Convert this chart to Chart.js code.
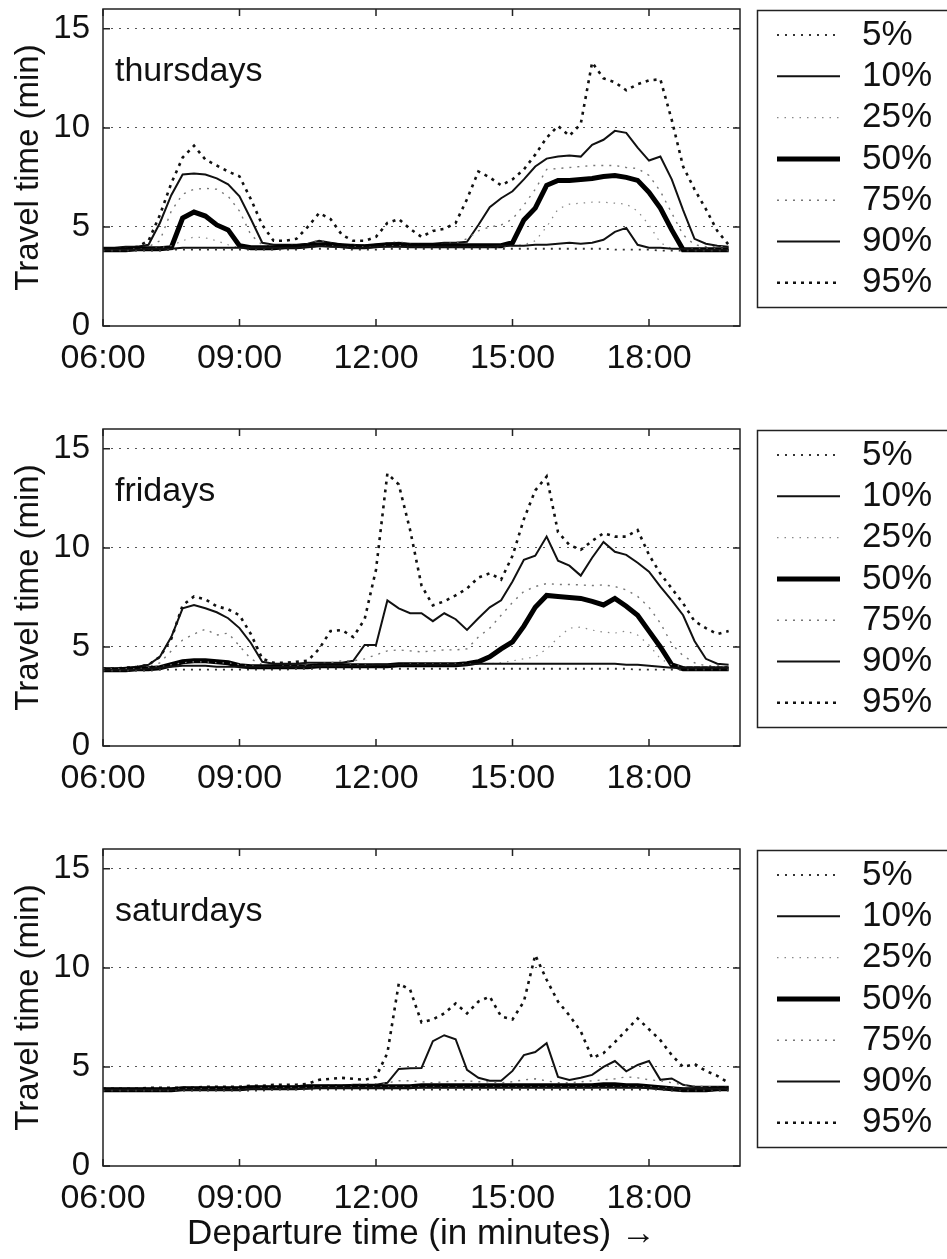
<!DOCTYPE html>
<html>
<head>
<meta charset="utf-8">
<script src="https://cdn.jsdelivr.net/npm/chart.js@4.4.1/dist/chart.umd.min.js"></script>
<style>
  html, body { margin: 0; padding: 0; background: #fff; }
  #wrap { position: relative; width: 947px; height: 1259px; overflow: hidden; }
  canvas { position: absolute; left: 0; }
</style>
</head>
<body>
<div id="wrap">
  <canvas id="thu" width="947" height="420" style="top:0;width:947px;height:420px"></canvas>
  <canvas id="fri" width="947" height="420" style="top:420px;width:947px;height:420px"></canvas>
  <canvas id="sat" width="947" height="419" style="top:840px;width:947px;height:419px"></canvas>
</div>
<script>
// departure times, minutes after midnight (06:00 .. 19:45, every 15 min)
const minutes = [360,375,390,405,420,435,450,465, 480,495,510,525,540,555,570,585,
  600,615,630,645,660,675,690,705, 720,735,750,765,780,795,810,825,
  840,855,870,885,900,915,930,945, 960,975,990,1005,1020,1035,1050,1065,
  1080,1095,1110,1125,1140,1155,1170,1185];

const levels = ['5%', '10%', '25%', '50%', '75%', '90%', '95%'];
const xTicks = [360, 540, 720, 900, 1080];
const yTicks = [0, 5, 10, 15];

// thursdays (travel time in minutes per percentile)
const thuP5  = [3.8,3.8,3.8,3.8,3.8,3.8,3.85,3.85, 3.85,3.85,3.85,3.85,3.85,3.85,3.85,3.85, 3.85,3.85,3.9,3.9,3.9,3.9,3.85,3.85, 3.85,3.9,3.9,3.9,3.9,3.9,3.9,3.9, 3.9,3.9,3.9,3.9,3.9,3.9,3.9,3.9, 3.9,3.9,3.9,3.9,3.9,3.85,3.85,3.85, 3.85,3.8,3.8,3.8,3.8,3.8,3.8,3.8];
const thuP10 = [3.85,3.85,3.85,3.85,3.9,3.9,3.9,3.95, 3.95,3.95,3.95,3.95,3.95,3.95,3.95,3.95, 3.95,3.95,4.0,4.05,4.0,4.0,3.95,3.95, 4.0,4.0,4.0,4.0,4.0,4.0,4.0,4.0, 4.0,4.0,4.0,4.05,4.05,4.05,4.1,4.1, 4.15,4.2,4.15,4.2,4.35,4.75,4.95,4.1, 3.95,3.95,3.9,3.9,3.85,3.85,3.85,3.85];
const thuP25 = [3.85,3.85,3.85,3.9,3.9,3.95,4.05,4.3, 4.5,4.45,4.3,4.1,3.95,3.95,3.95,3.95, 3.95,3.95,4.0,4.05,4.05,4.0,4.0,4.0, 4.0,4.05,4.05,4.0,4.0,4.0,4.0,4.0, 4.0,4.0,4.0,4.0,4.05,4.1,4.3,5.0, 5.9,6.15,6.2,6.25,6.25,6.2,6.15,5.8, 5.1,4.2,3.9,3.9,3.9,3.9,3.9,3.9];
const thuP50 = [3.85,3.85,3.85,3.9,3.9,3.9,3.95,5.45, 5.75,5.55,5.1,4.85,4.05,3.95,3.95,3.95, 4.0,4.0,4.05,4.1,4.1,4.05,4.0,4.0, 4.05,4.1,4.1,4.05,4.05,4.05,4.05,4.05, 4.05,4.05,4.05,4.05,4.2,5.35,5.95,7.1, 7.35,7.35,7.4,7.45,7.55,7.6,7.5,7.35, 6.75,5.95,4.85,3.85,3.85,3.85,3.85,3.85];
const thuP75 = [3.9,3.9,3.95,3.95,4.0,4.3,5.8,6.65, 6.9,6.95,6.9,6.55,5.8,4.6,4.1,4.05, 4.05,4.1,4.15,4.35,4.2,4.1,4.1,4.1, 4.1,4.2,4.25,4.15,4.1,4.1,4.15,4.2, 4.4,4.8,5.0,5.1,5.4,6.1,6.9,7.9, 7.95,8.0,8.05,8.1,8.1,8.1,8.0,7.95, 7.6,6.8,5.7,4.6,4.1,4.0,4.0,4.0];
const thuP90 = [3.95,3.95,4.0,4.0,4.1,5.2,6.6,7.65, 7.7,7.65,7.45,7.15,6.55,5.4,4.2,4.1, 4.1,4.1,4.15,4.3,4.2,4.1,4.1,4.05, 4.1,4.15,4.2,4.15,4.15,4.15,4.2,4.2, 4.25,5.1,6.0,6.45,6.8,7.4,8.05,8.45, 8.55,8.6,8.55,9.15,9.4,9.85,9.75,9.0, 8.35,8.55,7.4,5.85,4.4,4.15,4.05,4.0];
const thuP95 = [3.9,3.9,3.95,4.0,4.3,5.6,7.2,8.5, 9.1,8.4,8.1,7.8,7.55,6.4,5.1,4.3, 4.3,4.4,5.0,5.7,5.4,4.6,4.3,4.3, 4.5,5.2,5.4,4.9,4.5,4.8,4.9,5.2, 6.4,7.8,7.5,7.1,7.4,7.9,8.65,9.5, 10.1,9.6,10.2,13.3,12.5,12.3,11.9,12.2, 12.4,12.45,10.4,8.05,6.9,5.9,4.8,4.1];

// fridays
const friP5  = [3.8,3.8,3.8,3.8,3.8,3.85,3.85,3.85, 3.85,3.85,3.85,3.85,3.85,3.85,3.85,3.85, 3.85,3.9,3.9,3.9,3.9,3.9,3.9,3.9, 3.9,3.9,3.9,3.9,3.9,3.9,3.9,3.9, 3.9,3.9,3.9,3.9,3.9,3.9,3.9,3.9, 3.9,3.9,3.9,3.9,3.9,3.9,3.9,3.85, 3.85,3.85,3.85,3.85,3.85,3.85,3.85,3.85];
const friP10 = [3.85,3.85,3.85,3.85,3.9,3.95,4.0,4.05, 4.05,4.05,4.0,4.0,4.0,4.0,4.0,4.0, 4.0,4.0,4.0,4.05,4.05,4.05,4.05,4.05, 4.1,4.1,4.1,4.1,4.1,4.1,4.1,4.1, 4.1,4.15,4.15,4.15,4.15,4.15,4.15,4.15, 4.15,4.15,4.15,4.15,4.15,4.15,4.1,4.1, 4.05,4.0,3.95,3.95,3.95,3.95,3.95,3.95];
const friP25 = [3.9,3.9,3.9,3.9,3.95,4.0,4.1,4.2, 4.25,4.25,4.2,4.2,4.1,4.05,4.0,4.0, 4.05,4.05,4.05,4.05,4.05,4.05,4.1,4.1, 4.1,4.1,4.1,4.15,4.15,4.15,4.15,4.15, 4.15,4.15,4.15,4.2,4.3,4.4,4.5,4.9, 5.45,5.95,6.0,5.85,5.75,5.7,5.8,5.6, 5.1,4.4,4.1,4.0,4.0,4.0,4.0,4.0];
const friP50 = [3.85,3.85,3.85,3.9,3.9,3.95,4.1,4.25, 4.3,4.3,4.25,4.2,4.05,4.0,4.0,4.0, 4.0,4.0,4.0,4.05,4.05,4.05,4.05,4.05, 4.05,4.05,4.1,4.1,4.1,4.1,4.1,4.1, 4.15,4.25,4.5,4.9,5.25,6.05,7.0,7.6, 7.55,7.5,7.45,7.3,7.12,7.45,7.05,6.6, 5.8,5.0,4.1,3.9,3.9,3.9,3.9,3.9];
const friP75 = [3.9,3.9,3.9,3.95,4.0,4.2,4.8,5.35, 5.65,5.9,5.6,5.7,5.05,4.4,4.1,4.05, 4.05,4.1,4.1,4.15,4.2,4.3,4.3,4.4, 4.6,4.8,4.85,4.8,4.75,4.8,4.85,4.85, 4.9,5.5,5.95,6.6,7.25,7.8,8.05,8.2, 8.15,8.15,8.13,8.1,8.13,8.05,7.88,7.55, 7.0,6.2,5.15,4.55,4.2,4.05,4.05,4.0];
const friP90 = [3.9,3.9,3.95,4.0,4.1,4.5,5.5,6.95, 7.12,6.95,6.75,6.45,5.95,5.2,4.25,4.15, 4.15,4.15,4.2,4.2,4.2,4.2,4.3,5.1, 5.1,7.35,6.95,6.7,6.7,6.3,6.7,6.4, 5.86,6.45,7.0,7.35,8.3,9.4,9.6,10.57, 9.35,9.1,8.6,9.5,10.3,9.8,9.65,9.25, 8.8,8.05,7.35,6.6,5.3,4.4,4.15,4.1];
const friP95 = [3.9,3.9,3.95,4.0,4.1,4.5,5.4,7.1, 7.55,7.4,7.05,6.9,6.6,5.65,4.4,4.2, 4.2,4.25,4.3,4.9,5.8,5.85,5.5,6.4, 8.9,13.75,13.2,10.9,8.1,7.1,7.3,7.6, 7.95,8.5,8.72,8.4,9.6,11.45,12.9,13.6, 10.8,10.15,9.9,10.35,10.74,10.57,10.57,10.9, 9.65,8.7,7.95,7.2,6.3,5.95,5.65,5.8];

// saturdays
const satP5  = [3.8,3.8,3.8,3.8,3.8,3.8,3.8,3.8, 3.8,3.8,3.8,3.8,3.8,3.8,3.8,3.85, 3.85,3.85,3.85,3.85,3.85,3.85,3.85,3.85, 3.85,3.85,3.85,3.85,3.85,3.85,3.85,3.85, 3.85,3.85,3.85,3.85,3.85,3.85,3.85,3.85, 3.85,3.85,3.85,3.85,3.85,3.85,3.85,3.85, 3.85,3.85,3.8,3.8,3.8,3.8,3.8,3.8];
const satP10 = [3.85,3.85,3.85,3.85,3.85,3.85,3.85,3.85, 3.85,3.85,3.85,3.85,3.85,3.9,3.9,3.9, 3.9,3.9,3.9,3.95,3.95,3.95,3.95,3.95, 3.95,3.95,3.95,3.95,3.95,3.95,3.95,3.95, 3.95,3.95,3.95,3.95,3.95,3.95,3.95,3.95, 3.95,3.95,3.95,3.95,3.95,3.95,3.95,3.95, 3.95,3.9,3.9,3.9,3.9,3.9,3.9,3.9];
const satP25 = [3.85,3.85,3.85,3.85,3.85,3.85,3.85,3.9, 3.9,3.9,3.9,3.9,3.9,3.9,3.95,3.95, 3.95,3.95,3.95,4.0,4.0,4.0,4.0,4.0, 4.0,4.0,4.0,4.0,4.0,4.0,4.0,4.0, 4.0,4.0,4.0,4.0,4.0,4.0,4.0,4.0, 4.0,4.0,4.0,4.0,4.0,4.0,4.0,4.0, 4.0,3.95,3.95,3.9,3.9,3.9,3.9,3.9];
const satP50 = [3.85,3.85,3.85,3.85,3.85,3.85,3.85,3.9, 3.9,3.9,3.9,3.9,3.9,3.95,3.95,3.95, 3.95,3.95,4.0,4.0,4.0,4.0,4.0,4.0, 4.0,4.0,4.0,4.0,4.05,4.05,4.05,4.05, 4.05,4.05,4.05,4.05,4.05,4.05,4.05,4.05, 4.05,4.05,4.05,4.05,4.1,4.1,4.05,4.05, 4.0,3.95,3.9,3.85,3.85,3.85,3.9,3.9];
const satP75 = [3.9,3.9,3.9,3.9,3.9,3.9,3.9,3.9, 3.9,3.95,3.95,3.95,3.95,4.0,4.0,4.0, 4.0,4.05,4.05,4.05,4.1,4.1,4.1,4.15, 4.15,4.2,4.3,4.3,4.25,4.2,4.25,4.3, 4.3,4.25,4.25,4.2,4.25,4.35,4.4,4.3, 4.2,4.2,4.25,4.3,4.35,4.4,4.5,4.45, 4.35,4.3,4.2,4.1,4.05,4.0,4.0,4.0];
const satP90 = [3.9,3.9,3.9,3.9,3.9,3.9,3.9,3.95, 3.95,3.95,3.95,3.95,3.95,4.0,4.0,4.0, 4.0,4.0,4.05,4.05,4.05,4.05,4.1,4.1, 4.1,4.2,4.9,4.93,4.95,6.3,6.6,6.4, 4.85,4.45,4.3,4.3,4.8,5.6,5.75,6.2, 4.5,4.34,4.45,4.6,5.0,5.3,4.78,5.1, 5.3,4.35,4.42,4.1,4.0,4.0,4.0,4.0];
const satP95 = [3.9,3.9,3.9,3.9,3.95,3.95,3.95,3.95, 3.95,4.0,4.0,4.0,4.0,4.05,4.05,4.1, 4.1,4.1,4.15,4.35,4.4,4.45,4.4,4.35, 4.5,5.7,9.2,8.9,7.25,7.4,7.7,8.2, 7.7,8.3,8.55,7.55,7.4,8.3,10.65,9.4, 8.3,7.6,6.8,5.45,5.7,6.25,6.85,7.45, 6.9,6.35,5.6,5.0,5.15,4.8,4.55,4.2];

const FONT = '"Liberation Sans", Arial, sans-serif';

// line look of each percentile (matlab-like dotted / solid / thick)
const lineStyles = [
  { color: '#333', width: 1.8, dash: [2, 6] },
  { color: '#111', width: 2,   dash: [] },
  { color: '#888', width: 1.2, dash: [1.5, 6] },
  { color: '#000', width: 5,   dash: [] },
  { color: '#777', width: 1.4, dash: [2, 6] },
  { color: '#111', width: 2,   dash: [] },
  { color: '#111', width: 2.6, dash: [3, 5] }
];

function hhmm(v) {
  const h = Math.floor(v / 60), m = v % 60;
  return String(h).padStart(2, '0') + ':' + String(m).padStart(2, '0');
}

// box round the plot, inward tick marks and the day name
const framePlugin = {
  id: 'frame',
  afterDatasetsDraw(chart, args, opts) {
    const { ctx, chartArea: a, scales: { x, y } } = chart;
    ctx.save();
    ctx.strokeStyle = '#222';
    ctx.lineWidth = 1.5;
    ctx.setLineDash([]);
    ctx.strokeRect(a.left, a.top, a.right - a.left, a.bottom - a.top);
    ctx.beginPath();
    x.ticks.forEach(t => {
      const px = x.getPixelForValue(t.value);
      ctx.moveTo(px, a.bottom); ctx.lineTo(px, a.bottom - 7);
      ctx.moveTo(px, a.top); ctx.lineTo(px, a.top + 7);
    });
    y.ticks.forEach(t => {
      const py = y.getPixelForValue(t.value);
      ctx.moveTo(a.left, py); ctx.lineTo(a.left + 7, py);
      ctx.moveTo(a.right, py); ctx.lineTo(a.right - 7, py);
    });
    ctx.stroke();
    ctx.fillStyle = '#111';
    ctx.font = '34px ' + FONT;
    ctx.textBaseline = 'alphabetic';
    ctx.fillText(opts.day, a.left + 12, a.top + 72);
    ctx.restore();
  }
};

// boxed legend at the right, using each dataset's own line style
const legendPlugin = {
  id: 'boxLegend',
  afterDraw(chart) {
    const ctx = chart.ctx;
    ctx.save();
    ctx.strokeStyle = '#222';
    ctx.lineWidth = 1.5;
    ctx.strokeRect(757.5, 10.5, 260, 297);
    chart.data.datasets.forEach((ds, i) => {
      const y = 35 + i * 41.3;
      ctx.beginPath();
      ctx.setLineDash(ds.borderDash);
      ctx.lineWidth = ds.borderWidth;
      ctx.strokeStyle = ds.borderColor;
      ctx.moveTo(777, y);
      ctx.lineTo(840, y);
      ctx.stroke();
      ctx.setLineDash([]);
      ctx.fillStyle = '#111';
      ctx.font = '35px ' + FONT;
      ctx.textBaseline = 'middle';
      ctx.fillText(ds.label, 862, y);
    });
    ctx.restore();
  }
};

function makePanel(id, day, series, showXTitle) {
  const canvas = document.getElementById(id);
  const H = canvas.height;
  return new Chart(canvas, {
    type: 'line',
    data: {
      datasets: series.map((vals, k) => ({
        label: levels[k],
        data: minutes.map((m, i) => ({ x: m, y: vals[i] })),
        borderColor: lineStyles[k].color,
        borderWidth: lineStyles[k].width,
        borderDash: lineStyles[k].dash,
        pointRadius: 0,
        tension: 0,
        fill: false
      }))
    },
    options: {
      responsive: false,
      animation: false,
      devicePixelRatio: 1,
      layout: { padding: { left: 0, top: 9, right: 207, bottom: 0 } },
      plugins: {
        legend: { display: false },
        tooltip: { enabled: false },
        frame: { day: day }
      },
      scales: {
        x: {
          type: 'linear',
          min: 360,
          max: 1200,
          grid: { display: false, drawTicks: false },
          border: { display: false },
          afterBuildTicks: s => { s.ticks = xTicks.map(v => ({ value: v })); },
          ticks: {
            autoSkip: false,
            maxRotation: 0,
            padding: 12,
            color: '#111',
            font: { family: FONT, size: 34 },
            callback: v => hhmm(v)
          },
          title: {
            display: showXTitle,
            text: 'Departure time (in minutes) \u2192',
            color: '#111',
            font: { family: FONT, size: 35 },
            padding: { top: 0, bottom: 4 }
          },
          afterFit: s => { s.height = H - 326; s.paddingLeft = 0; s.paddingRight = 0; }
        },
        y: {
          min: 0,
          max: 16,
          afterBuildTicks: s => { s.ticks = yTicks.map(v => ({ value: v })); },
          grid: {
            drawTicks: false,
            lineWidth: 1,
            color: c => (c.tick && c.tick.value === 0) ? 'rgba(0,0,0,0)' : '#555'
          },
          border: { display: false, dash: [2, 6] },
          ticks: {
            padding: 13,
            color: '#111',
            font: { family: FONT, size: 33 }
          },
          title: {
            display: true,
            text: 'Travel time (min)',
            color: '#111',
            font: { family: FONT, size: 33 },
            padding: { top: 9, bottom: 0 }
          },
          afterFit: s => { s.width = 103; s.paddingTop = 0; s.paddingBottom = 0; }
        }
      }
    },
    plugins: [framePlugin, legendPlugin]
  });
}

makePanel('thu', 'thursdays', [thuP5, thuP10, thuP25, thuP50, thuP75, thuP90, thuP95], false);
makePanel('fri', 'fridays', [friP5, friP10, friP25, friP50, friP75, friP90, friP95], false);
makePanel('sat', 'saturdays', [satP5, satP10, satP25, satP50, satP75, satP90, satP95], true);
</script>
</body>
</html>
